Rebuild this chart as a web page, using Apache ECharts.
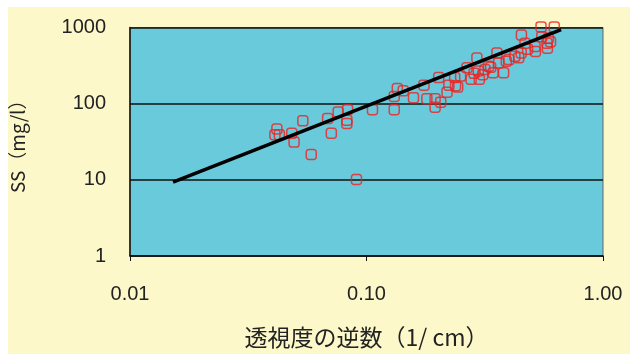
<!DOCTYPE html>
<html>
<head>
<meta charset="utf-8">
<script src="https://cdn.jsdelivr.net/npm/echarts@6/dist/echarts.min.js"></script>
<style>
html,body{margin:0;padding:0;background:#ffffff;}
#bg{position:absolute;left:8px;top:7px;width:622px;height:347px;background:#FCF8CA;}
#c{position:absolute;left:0;top:0;width:630px;height:354px;}
</style>
</head>
<body>
<div id="bg"></div>
<div id="c"></div>
<script>
// Inverse of transparency (1/cm)
const xValues = [0.0418,0.0410,0.0428,0.0483,0.0494,0.0538,0.0584,0.0685,0.0710,0.0759,0.0832,0.0826,0.0826,0.0907,0.106,0.131,0.131,0.135,0.143,0.158,0.175,0.180,0.195,0.195,0.206,0.202,0.219,0.223,0.236,0.238,0.243,0.266,0.277,0.293,0.297,0.300,0.317,0.328,0.343,0.356,0.362,0.380,0.400,0.424,0.452,0.451,0.468,0.516,0.518,0.547,0.551,0.580,0.587,0.622,0.582,0.250,0.285,0.310,0.335,0.390,0.440,0.480,0.600];
// SS (mg/l)
const yValues = [46.5,39,39,40.9,31.3,59.5,21.5,63.8,40.9,77.8,83.4,60.7,55,10.1,83.4,83.4,124,158,148,120,175,115.6,115.6,90,104.7,220,141,175,220,172,165,296,209,398,268,209,281,311,255,462,343,255,379,418,796,462,621,563,485,1019,757,621,721,1019,535,230,250,240,300,360,400,520,650];
// Regression line end points
const fitX = [0.0152, 0.665];
const fitY = [9.3, 937];
const xTickLabels = ['0.01','0.10','1.00'];
const yTickLabels = ['1','10','100','1000'];

const points = xValues.map((x,i)=>[x,yValues[i]]);
const fit = fitX.map((x,i)=>[x,fitY[i]]);

const chart = echarts.init(document.getElementById('c'));
chart.setOption({
  backgroundColor: 'transparent',
  animation: false,
  grid: {left:128, right:27, top:27.5, bottom:94, show:true, backgroundColor:'#69CADC', borderColor:'#666', borderWidth:1},
  xAxis: {
    type:'log', logBase:10, min:0.01, max:1,
    name:'透視度の逆数（1/ cm）', nameLocation:'middle', nameGap:70,
    nameTextStyle:{fontFamily:'Noto Sans CJK JP', fontSize:23, color:'#222'},
    axisLine:{show:true, lineStyle:{color:'#111', width:1.5}},
    axisTick:{show:true, inside:false, length:5, lineStyle:{color:'#111'}},
    axisLabel:{fontFamily:'Liberation Sans', fontSize:20, color:'#222', margin:28,
      formatter:(v)=>{const i=Math.round(Math.log10(v))+2; return xTickLabels[i];}},
    splitLine:{show:false}
  },
  yAxis: {
    type:'log', logBase:10, min:1, max:1000,
    name:'SS（mg/l）', nameLocation:'middle', nameGap:103, nameRotate:90,
    nameTextStyle:{fontFamily:'Noto Sans CJK JP', fontSize:19, color:'#222'},
    axisLine:{show:true, lineStyle:{color:'#111', width:1.5}},
    axisTick:{show:false},
    axisLabel:{fontFamily:'Liberation Sans', fontSize:20, color:'#222', margin:24,
      formatter:(v)=>{const i=Math.round(Math.log10(v)); return yTickLabels[i];}},
    splitLine:{show:true, lineStyle:{color:'#111', width:1.5}}
  },
  series: [
    {type:'scatter', data:points, symbol:'roundRect', symbolSize:10, clip:false,
     itemStyle:{color:'rgba(0,0,0,0)', borderColor:'#F02020', borderWidth:1.5}, z:3},
    {type:'line', data:fit, showSymbol:false, symbol:'none', clip:false,
     lineStyle:{color:'#000', width:3.5}, z:4}
  ]
});
</script>
</body>
</html>
